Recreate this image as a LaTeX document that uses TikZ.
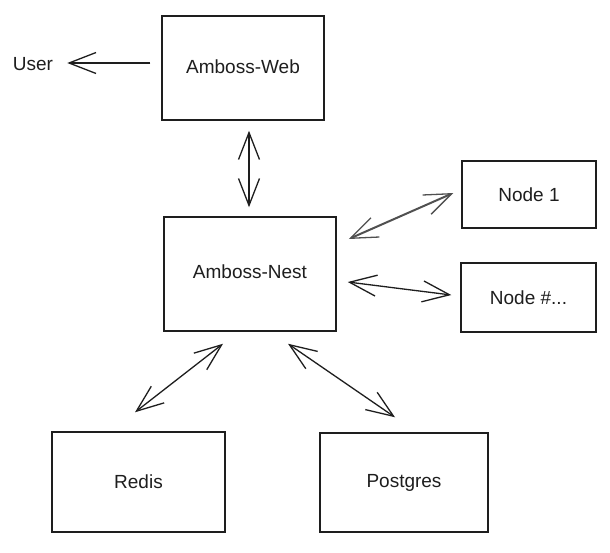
\documentclass[tikz,border=0pt]{standalone}
\usepackage{fontspec}
\setmainfont{Liberation Sans}
\usetikzlibrary{arrows.meta,calc}
\definecolor{ink}{HTML}{1E1E1E}
\definecolor{thick}{HTML}{505050}
\begin{document}
\begin{tikzpicture}[x=1pt,y=-1pt,
  box/.style={draw=ink, line width=1.5pt, rectangle, inner sep=0pt,
    font=\fontsize{19}{23}\selectfont, text=ink},
  lbl/.style={font=\fontsize{19}{23}\selectfont, text=ink, inner sep=2pt},
  barb/.tip={Straight Barb[length=27pt, width=21pt, line width=1.3pt]},
  link/.style={draw=ink, line width=1.3pt},
  both/.style={link, barb-barb}]
\useasboundingbox (0,0) rectangle (610,552);
\fill[white] (0,0) rectangle (610,552);

\node[box, minimum width=162pt, minimum height=104pt] (Web) at (243,68) {\raisebox{2pt}{Amboss-Web}};
\node[lbl] (User) at (33,64) {User};
\node[box, minimum width=172pt, minimum height=114pt] (Nest) at (250,274) {\raisebox{4pt}{Amboss-Nest}};
\node[box, minimum width=134pt, minimum height=67pt] (N1) at (529,194.5) {Node 1};
\node[box, minimum width=135pt, minimum height=69pt] (Nn) at (528.5,297.5) {Node \#...};
\node[box, minimum width=173pt, minimum height=100pt] (Redis) at (138.5,482) {Redis};
\node[box, minimum width=168pt, minimum height=99pt] (Pg) at (404,482.5) {Postgres};

\draw[link, -barb] ($(Web.west)+(-11,-5)$) -- ($(User.east)+(12,-1)$);
\draw[both] ($(Web.south)+(6,10)$) -- ($(Nest.north)+(-1,-9)$);
\draw[both, line width=2pt, draw=thick] ($(Nest.east)+(12,-35)$) -- ($(N1.west)+(-8,-1.5)$);
\draw[both] ($(Nest.east)+(11,8)$) -- ($(Nn.west)+(-9,-2.5)$);
\draw[both] ($(Redis.north)+(-3.5,-19)$) -- ($(Nest.south)+(-27,12)$);
\draw[both] ($(Nest.south)+(38,12)$) -- ($(Pg.north)+(-9,-15)$);
\end{tikzpicture}
\end{document}
